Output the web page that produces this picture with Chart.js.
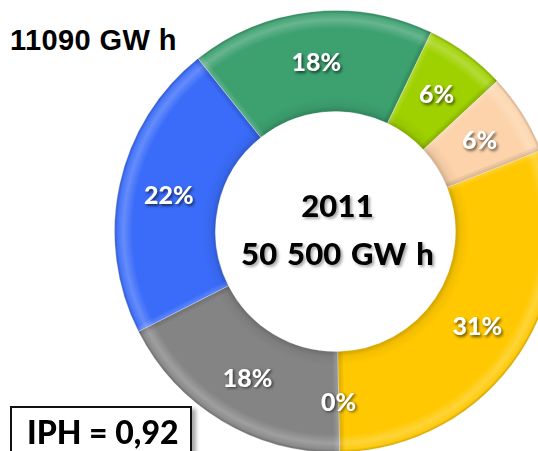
<!DOCTYPE html>
<html>
<head>
<meta charset="utf-8">
<script src="https://cdn.jsdelivr.net/npm/chart.js@4.4.1/dist/chart.umd.min.js"></script>
<style>
  html, body { margin: 0; padding: 0; background: #fff; }
  body { width: 538px; height: 451px; overflow: hidden; position: relative; }
  #wrap { position: absolute; left: 114px; top: 10px; width: 443px; height: 443px; }
  #total { position: absolute; left: 10px; top: 26px; font: bold 29px "Liberation Sans", Arial, sans-serif;
           line-height: 28px; letter-spacing: 0.4px; color: #000; white-space: nowrap; }
  #iph { position: absolute; left: 10px; top: 406px; width: 178px; height: 70px; background: #fff;
         border: 2px solid #111; box-shadow: 4px 3px 4px rgba(0,0,0,0.35); }
  #iph span { position: absolute; left: 15px; top: 8px; font: 900 32px Lato, sans-serif; line-height: 32px;
              color: #000; white-space: nowrap; }
</style>
</head>
<body>
<div id="total">11090 GW h</div>
<div id="wrap"><canvas id="c" width="443" height="443"></canvas></div>
<div id="iph"><span>IPH = 0,92</span></div>
<script>
// Electricity generation mix, 2011 (share of total, %)
const sources = ['Hydro', 'Wind', 'Solar', 'Nuclear', 'Other', 'Gas', 'Coal'];
const shares = [18, 6, 6, 31, 0, 18, 22];
const centerTitle = '2011';
const centerTotal = '50 500 GW h';

const baseColors = ['#3ca06f', '#9fd100', '#fcd3ab', '#ffc800', '#a0a0a0', '#848484', '#3a6cf9'];
const CUTOUT = 0.543;

function shade(hex, f) {
  const n = parseInt(hex.slice(1), 16);
  let r = (n >> 16) & 255, g = (n >> 8) & 255, b = n & 255;
  const t = f < 0 ? 0 : 255, p = Math.abs(f);
  r = Math.round(r + (t - r) * p); g = Math.round(g + (t - g) * p); b = Math.round(b + (t - b) * p);
  return `rgb(${r},${g},${b})`;
}

function ringFill(context) {
  const base = baseColors[context.dataIndex];
  const chart = context.chart;
  const area = chart.chartArea;
  if (!area) return base;
  const cx = (area.left + area.right) / 2, cy = (area.top + area.bottom) / 2;
  const outer = (Math.min(area.width, area.height) - 1) / 2;
  const inner = outer * CUTOUT;
  const g = chart.ctx.createRadialGradient(cx, cy, inner, cx, cy, outer);
  g.addColorStop(0.00, shade(base, -0.18));
  g.addColorStop(0.05, shade(base, -0.05));
  g.addColorStop(0.14, base);
  g.addColorStop(0.82, base);
  g.addColorStop(0.91, shade(base, 0.22));
  g.addColorStop(0.97, shade(base, 0.06));
  g.addColorStop(1.00, shade(base, -0.2));
  return g;
}

// soft bevel along the straight edges of each segment
const bevel = {
  id: 'bevel',
  afterDatasetsDraw(chart) {
    const ctx = chart.ctx;
    const meta = chart.getDatasetMeta(0);
    meta.data.forEach((arc) => {
      const { x, y, startAngle, endAngle, innerRadius, outerRadius } = arc.getProps(
        ['x', 'y', 'startAngle', 'endAngle', 'innerRadius', 'outerRadius'], true);
      if (endAngle - startAngle <= 0) return;
      ctx.save();
      ctx.beginPath();
      ctx.arc(x, y, outerRadius, startAngle, endAngle);
      ctx.arc(x, y, innerRadius, endAngle, startAngle, true);
      ctx.closePath();
      ctx.clip();
      const edge = (ang, light) => {
        for (let w = 10; w >= 2; w -= 4) {
          ctx.beginPath();
          ctx.moveTo(x + Math.cos(ang) * innerRadius, y + Math.sin(ang) * innerRadius);
          ctx.lineTo(x + Math.cos(ang) * outerRadius, y + Math.sin(ang) * outerRadius);
          ctx.lineWidth = w;
          ctx.strokeStyle = light ? 'rgba(255,255,255,0.07)' : 'rgba(0,0,0,0.05)';
          ctx.stroke();
        }
      };
      edge(startAngle, true);
      edge(endAngle, false);
      ctx.restore();
    });
  }
};

// percentage labels on each segment + the total in the hole
const ringLabels = {
  id: 'ringLabels',
  afterDatasetsDraw(chart) {
    const ctx = chart.ctx;
    const meta = chart.getDatasetMeta(0);
    ctx.save();
    ctx.font = '900 25px Lato, sans-serif';
    ctx.textAlign = 'center';
    ctx.textBaseline = 'alphabetic';
    ctx.fillStyle = '#fff';
    ctx.shadowColor = 'rgba(0,0,0,0.6)';
    ctx.shadowBlur = 3;
    ctx.shadowOffsetX = 1.5;
    ctx.shadowOffsetY = 1.5;
    meta.data.forEach((arc, i) => {
      const p = arc.tooltipPosition();
      ctx.fillText(shares[i] + '%', p.x, p.y + 9);
    });
    const a = chart.chartArea;
    const cx = (a.left + a.right) / 2, cy = (a.top + a.bottom) / 2;
    ctx.font = '900 31px Lato, sans-serif';
    ctx.letterSpacing = '0.2px';
    ctx.wordSpacing = '2px';
    ctx.fillStyle = '#000';
    ctx.shadowColor = 'rgba(0,0,0,0.35)';
    ctx.shadowBlur = 3;
    ctx.shadowOffsetX = 2;
    ctx.shadowOffsetY = 2;
    ctx.fillText(centerTitle, cx + 2, cy - 15);
    ctx.fillText(centerTotal, cx + 2, cy + 33);
    ctx.restore();
  }
};

new Chart(document.getElementById('c'), {
  type: 'doughnut',
  data: {
    labels: sources,
    datasets: [{
      data: shares,
      backgroundColor: ringFill,
      borderColor: 'rgba(255,255,255,0.35)',
      borderWidth: 1
    }]
  },
  options: {
    responsive: false,
    animation: false,
    devicePixelRatio: 1,
    rotation: -38.5,
    cutout: (CUTOUT * 100) + '%',
    layout: { padding: 0 },
    plugins: { legend: { display: false }, tooltip: { enabled: false } }
  },
  plugins: [bevel, ringLabels]
});
</script>
</body>
</html>
